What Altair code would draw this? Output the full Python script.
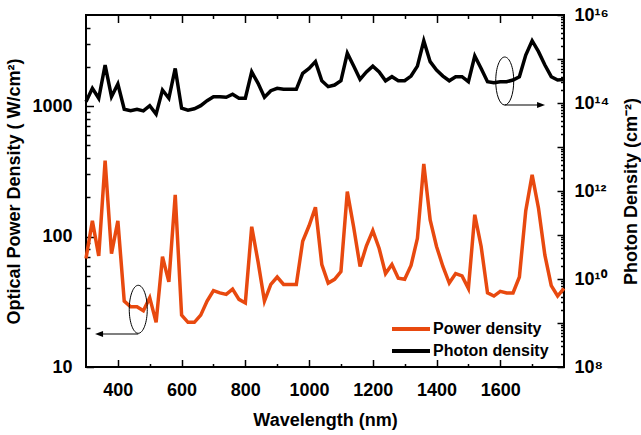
import altair as alt
import pandas as pd

# ---------------- data ----------------
wavelength = [300, 320, 340, 360, 380, 400, 420, 440, 460, 480,
              500, 520, 540, 560, 580, 600, 620, 640, 660, 680,
              700, 720, 740, 760, 780, 800, 820, 840, 860, 880,
              900, 920, 940, 960, 980, 1000, 1020, 1040, 1060, 1080,
              1100, 1120, 1140, 1160, 1180, 1200, 1220, 1240, 1260, 1280,
              1300, 1320, 1340, 1360, 1380, 1400, 1420, 1440, 1460, 1480,
              1500, 1520, 1540, 1560, 1580, 1600, 1620, 1640, 1660, 1680,
              1700, 1720, 1740, 1760, 1780, 1800]

power_density = [68, 132, 71, 383, 74, 132, 32, 29, 29, 27,
                 34, 22, 70, 45, 209, 25, 22, 22, 25, 32,
                 38.5, 37, 36, 39.5, 33, 31, 119, 64, 32, 43,
                 49, 43, 43, 43, 92, 121, 168, 61, 44, 47,
                 54, 221, 118, 59, 85, 111, 81, 52, 61, 48,
                 47, 60, 97, 361, 134, 84, 59, 44, 52, 50,
                 40, 147, 84, 37, 35, 38, 37, 37, 49, 158,
                 297, 165, 72, 42, 35, 40]

photon_density = [1.07e14, 2.16e14, 1.28e14, 7.3e14, 1.39e14, 2.7e14, 7.2e13, 6.7e13, 7.2e13, 6.6e13,
                  8.7e13, 5.6e13, 1.97e14, 1.28e14, 6.1e14, 7.6e13, 6.9e13, 7.4e13, 8.7e13, 1.13e14,
                  1.39e14, 1.39e14, 1.35e14, 1.58e14, 1.28e14, 1.28e14, 5.1e14, 2.8e14, 1.35e14, 1.9e14,
                  2.16e14, 2.05e14, 2.05e14, 2.05e14, 4.7e14, 6.1e14, 8.7e14, 3.2e14, 2.35e14, 2.56e14,
                  3.2e14, 1.35e15, 6.9e14, 3.46e14, 5.1e14, 6.9e14, 5.1e14, 3.2e14, 3.96e14, 3.2e14,
                  3.2e14, 4.1e14, 6.9e14, 2.6e15, 8.7e14, 5.6e14, 4.1e14, 3.2e14, 3.96e14, 3.96e14,
                  3.05e14, 1.17e15, 6.1e14, 3.05e14, 2.9e14, 3.05e14, 3.05e14, 3.33e14, 3.96e14, 1.23e15,
                  2.6e15, 1.47e15, 7.3e14, 3.96e14, 3.33e14, 3.4e14]

series_names = ["Power density", "Photon density"]
series_colors = ["#E8490F", "#000000"]

# tick values
x_major = [400, 600, 800, 1000, 1200, 1400, 1600]
x_minor = [500, 700, 900, 1100, 1300, 1500, 1700]
left_major = [10, 100, 1000]
left_minor = [20, 30, 40, 50, 60, 70, 80, 90,
              200, 300, 400, 500, 600, 700, 800, 900,
              2000, 3000, 4000]
right_major = [1e8, 1e9, 1e10, 1e11, 1e12, 1e13, 1e14, 1e15, 1e16]
right_minor = [m * 10.0 ** k for k in range(8, 16) for m in range(2, 10)]

# annotations (data coordinates)
power_mark_x = [464]
power_mark_y = [27.7]
power_arrow_x = [464]
power_arrow_x2 = [342]
power_arrow_y = [17.9]
power_head_x = [341]
photon_mark_x = [1614]
photon_mark_y = [3.16e14]
photon_arrow_x = [1614]
photon_arrow_x2 = [1724]
photon_arrow_y = [9.0e13]
photon_head_x = [1728]

FONT = "Liberation Sans"
ELLIPSE = "M -0.375 0 A 0.375 1 0 1 0 0.375 0 A 0.375 1 0 1 0 -0.375 0 Z"
HEAD_LEFT = "M -1 0 L 1 -0.75 L 1 0.75 Z"
HEAD_RIGHT = "M 1 0 L -1 -0.75 L -1 0.75 Z"
LEG_LINE = "M -2.5 0 L 2.5 0"

df_p = pd.DataFrame({"wavelength": wavelength, "value": power_density,
                     "series": series_names[0]})
df_b = pd.DataFrame({"wavelength": wavelength, "value": photon_density,
                     "series": series_names[1]})

XS = alt.Scale(domain=[300, 1800], nice=False, zero=False)
YL = alt.Scale(type="log", domain=[10, 5000], nice=False)
YR = alt.Scale(type="log", domain=[1e8, 1e16], nice=False)

color_scale = alt.Scale(domain=series_names, range=series_colors)


def ax(orient, values, size, **kw):
    opts = dict(orient=orient, values=values, tickSize=size, offset=-size,
                domain=False, grid=False, ticks=True, tickColor="black",
                tickWidth=1.5, labels=False, title=None)
    opts.update(kw)
    return alt.Axis(**opts)


legend = alt.Legend(orient="none", legendX=315, legendY=304, title=None,
                    symbolType=LEG_LINE, symbolSize=231, symbolStrokeWidth=4,
                    labelFont=FONT, labelFontSize=16, labelFontWeight="bold",
                    labelColor="black", rowPadding=4, labelOffset=12,
                    padding=0, direction="vertical")

right_label_expr = (
    "round(log(datum.value)/LN10)==8 ? '10⁸' : "
    "round(log(datum.value)/LN10)==10 ? '10¹⁰' : "
    "round(log(datum.value)/LN10)==12 ? '10¹²' : "
    "round(log(datum.value)/LN10)==14 ? '10¹⁴' : "
    "round(log(datum.value)/LN10)==16 ? '10¹⁶' : ''"
)

power_line = alt.Chart(df_p).mark_line(strokeWidth=3.5).encode(
    x=alt.X("wavelength:Q", scale=XS,
            axis=ax("bottom", x_major, 7.5, labels=True, labelPadding=14,
                    format="d", title="Wavelength (nm)", titlePadding=12)),
    y=alt.Y("value:Q", scale=YL,
            axis=ax("left", left_major, 7.5, labels=True, labelPadding=14,
                    format="d",
                    title="Optical Power Density (  W/cm²)", titlePadding=8)),
    color=alt.Color("series:N", scale=color_scale, legend=legend),
)

photon_line = alt.Chart(df_b).mark_line(strokeWidth=3.5).encode(
    x=alt.X("wavelength:Q", scale=XS, axis=ax("top", x_major, 7.5)),
    y=alt.Y("value:Q", scale=YR,
            axis=ax("right", right_major, 7, labels=True, labelPadding=10,
                    labelExpr=right_label_expr, labelAlign="left",
                    title="Photon Density (cm⁻²)", titleAngle=270,
                    titleBaseline="top", titlePadding=14)),
    color=alt.Color("series:N", scale=color_scale, legend=legend),
)

power_ellipse = alt.Chart(pd.DataFrame({"x": power_mark_x, "y": power_mark_y})).mark_point(
    shape=ELLIPSE, size=2304, filled=False, color="black", strokeWidth=1, opacity=1
).encode(
    x=alt.X("x:Q", scale=XS, axis=ax("bottom", x_minor, 3.5)),
    y=alt.Y("y:Q", scale=YL, axis=ax("left", left_minor, 4)),
)

photon_ellipse = alt.Chart(pd.DataFrame({"x": photon_mark_x, "y": photon_mark_y})).mark_point(
    shape=ELLIPSE, size=2304, filled=False, color="black", strokeWidth=1, opacity=1
).encode(
    x=alt.X("x:Q", scale=XS, axis=ax("top", x_minor, 3.5)),
    y=alt.Y("y:Q", scale=YR, axis=ax("right", right_minor, 3.5)),
)

power_arrow = alt.Chart(pd.DataFrame({"x": power_arrow_x, "x2": power_arrow_x2,
                                      "y": power_arrow_y})).mark_rule(
    color="black", strokeWidth=1.2).encode(
    x=alt.X("x:Q", scale=XS, axis=None), x2="x2:Q",
    y=alt.Y("y:Q", scale=YL, axis=None),
)
power_head = alt.Chart(pd.DataFrame({"x": power_head_x, "y": power_arrow_y})).mark_point(
    shape=HEAD_LEFT, size=64, filled=True, color="black", opacity=1).encode(
    x=alt.X("x:Q", scale=XS, axis=None),
    y=alt.Y("y:Q", scale=YL, axis=None),
)

photon_arrow = alt.Chart(pd.DataFrame({"x": photon_arrow_x, "x2": photon_arrow_x2,
                                       "y": photon_arrow_y})).mark_rule(
    color="black", strokeWidth=1.2).encode(
    x=alt.X("x:Q", scale=XS, axis=None), x2="x2:Q",
    y=alt.Y("y:Q", scale=YR, axis=None),
)
photon_head = alt.Chart(pd.DataFrame({"x": photon_head_x, "y": photon_arrow_y})).mark_point(
    shape=HEAD_RIGHT, size=64, filled=True, color="black", opacity=1).encode(
    x=alt.X("x:Q", scale=XS, axis=None),
    y=alt.Y("y:Q", scale=YR, axis=None),
)

chart = alt.layer(
    power_line, photon_line, power_ellipse, photon_ellipse,
    power_arrow, power_head, photon_arrow, photon_head
).resolve_scale(
    x="independent", y="independent", color="shared"
).resolve_axis(
    x="independent", y="independent"
).properties(
    width=478, height=352,
    padding={"left": 86, "top": 15, "right": 77, "bottom": 68},
    autosize=alt.AutoSizeParams(type="none"),
    background="white",
).configure_view(
    stroke="black", strokeWidth=2
).configure_axis(
    labelFont=FONT, titleFont=FONT, labelFontSize=18, titleFontSize=18,
    labelFontWeight="bold", titleFontWeight="bold",
    labelColor="black", titleColor="black",
    labelFlush=False, labelOverlap=False,
)

chart.save("out.html", embed_options={"renderer": "svg", "actions": False})
